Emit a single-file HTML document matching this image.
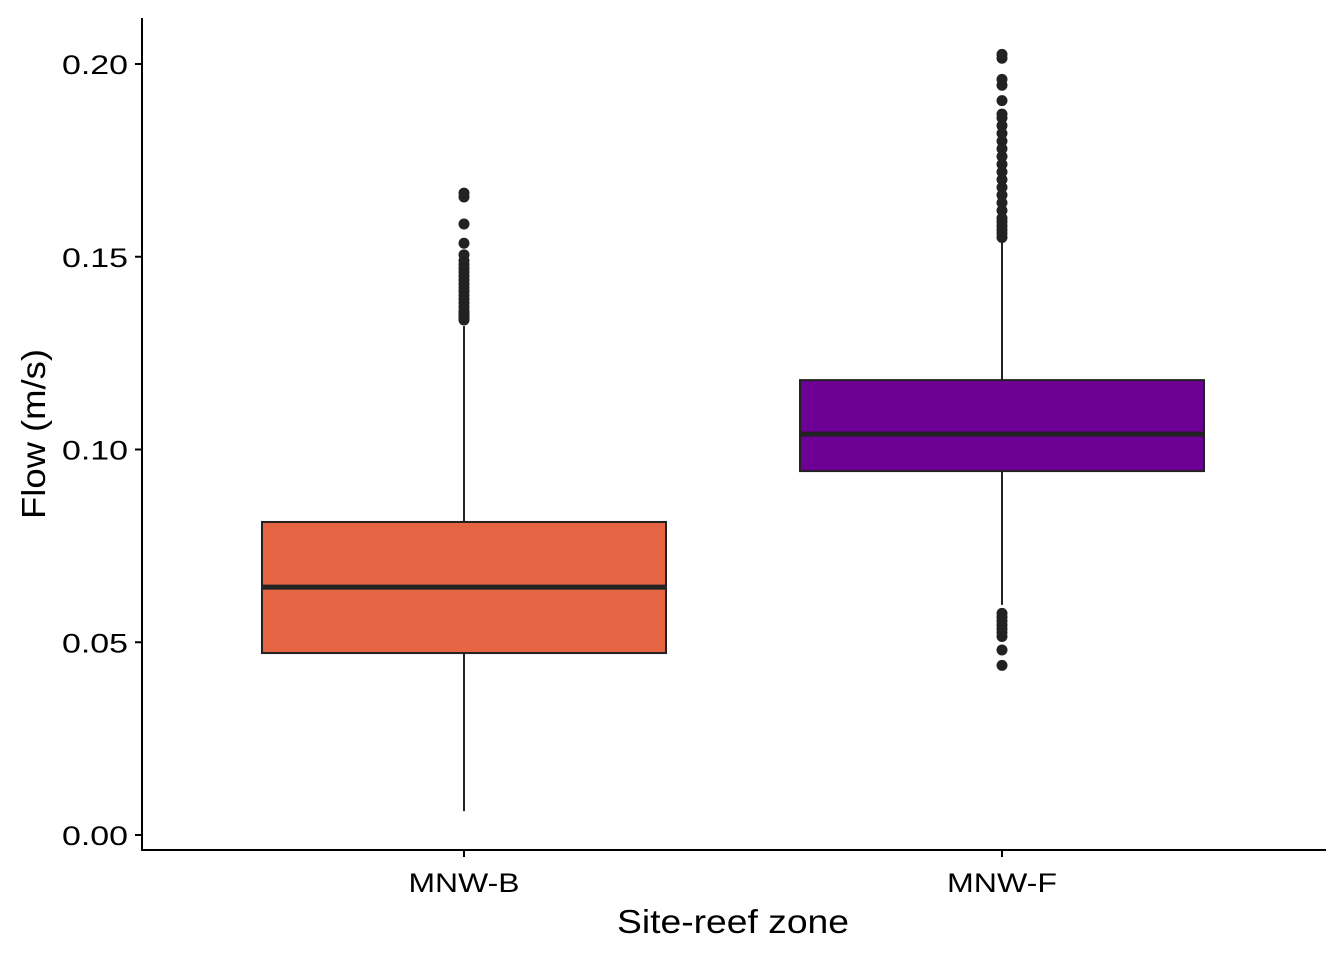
<!DOCTYPE html>
<html><head><meta charset="utf-8"><style>
html,body{margin:0;padding:0;background:#fff;}
svg text{font-family:"Liberation Sans",Arial,sans-serif;}
</style></head><body>
<svg id="chart" width="1344" height="960" xmlns="http://www.w3.org/2000/svg"></svg>
<script>
const categories = ["MNW-B","MNW-F"];
const fills = ["#E56443","#6E0096"];
const q1s = [0.0472, 0.0944];
const medians = [0.0643, 0.1040];
const q3s = [0.0812, 0.1180];
const whiskerLows = [0.0062, 0.0597];
const whiskerHighs = [0.1320, 0.1543];
const outliersB = [0.1336,0.134,0.1345,0.135,0.1355,0.136,0.137,0.138,0.139,0.140,0.141,0.142,0.143,0.144,0.145,0.146,0.147,0.148,0.149,0.1505,0.1535,0.1585,0.1655,0.1665];
const outliersF = [0.0440,0.0480,0.0515,0.0525,0.0535,0.0545,0.0555,0.0565,0.0575,0.155,0.156,0.157,0.158,0.159,0.160,0.162,0.164,0.166,0.168,0.170,0.172,0.174,0.176,0.178,0.180,0.182,0.184,0.186,0.187,0.1905,0.1945,0.196,0.2015,0.2025];
const outliers = [outliersB, outliersF];
const yTicks = [0,0.05,0.10,0.15,0.20];
const yTickLabels = ["0.00","0.05","0.10","0.15","0.20"];

const NS="http://www.w3.org/2000/svg";
const svg=document.getElementById('chart');
const y=v=>835-(v/0.20)*771;
const x=i=>464+i*538;
const halfW=202;
function mk(tag,attrs,parent){const e=document.createElementNS(NS,tag);for(const k in attrs)e.setAttribute(k,attrs[k]);(parent||svg).appendChild(e);return e;}

categories.forEach((c,i)=>{
  const g=mk('g',{});
  
  
  const w1=mk('line',{x1:x(i),x2:x(i),y1:y(whiskerLows[i]),y2:y(q1s[i]),stroke:'#222','stroke-width':2},g);
  
  
  const w2=mk('line',{x1:x(i),x2:x(i),y1:y(q3s[i]),y2:y(whiskerHighs[i]),stroke:'#222','stroke-width':2},g);
  
  
  const r=mk('rect',{x:x(i)-halfW,y:y(q3s[i]),width:halfW*2,height:y(q1s[i])-y(q3s[i]),fill:fills[i],stroke:'#222','stroke-width':2},g);
  
  
  const m=mk('line',{x1:x(i)-halfW,x2:x(i)+halfW,y1:y(medians[i]),y2:y(medians[i]),stroke:'#222','stroke-width':5},g);
  
  
  outliers[i].forEach(v=>{
    const p=mk('circle',{cx:x(i),cy:y(v),r:5.5,fill:'#222'},g);
    
    
  });
});

const ax=mk('line',{x1:142,x2:142,y1:18,y2:851,stroke:'#000','stroke-width':2});


const bx=mk('line',{x1:141,x2:1326,y1:850,y2:850,stroke:'#000','stroke-width':2});



yTicks.forEach((v,k)=>{
  const t=mk('line',{x1:135,x2:142,y1:y(v),y2:y(v),stroke:'#000','stroke-width':2});
  
  
  const l=mk('text',{x:62,y:y(v)+10,'font-size':27,fill:'#000',textLength:66,lengthAdjust:'spacingAndGlyphs'});
  l.textContent=yTickLabels[k];
  
  
});
const xLabelW=[111,110];
categories.forEach((c,i)=>{
  const t=mk('line',{x1:x(i),x2:x(i),y1:850,y2:857,stroke:'#000','stroke-width':2});
  
  
  const l=mk('text',{x:x(i)-xLabelW[i]/2,y:892,'font-size':27,fill:'#000',textLength:xLabelW[i],lengthAdjust:'spacingAndGlyphs'});
  l.textContent=c;
  
  
});
const xt=mk('text',{x:617,y:933,'font-size':33,fill:'#000',textLength:232,lengthAdjust:'spacingAndGlyphs'});
xt.textContent='Site-reef zone';


const yt=mk('text',{x:-85,y:0,'font-size':33,fill:'#000',textLength:170,lengthAdjust:'spacingAndGlyphs',transform:'translate(45,434) rotate(-90)'});
yt.textContent='Flow (m/s)';


</script>
</body></html>
